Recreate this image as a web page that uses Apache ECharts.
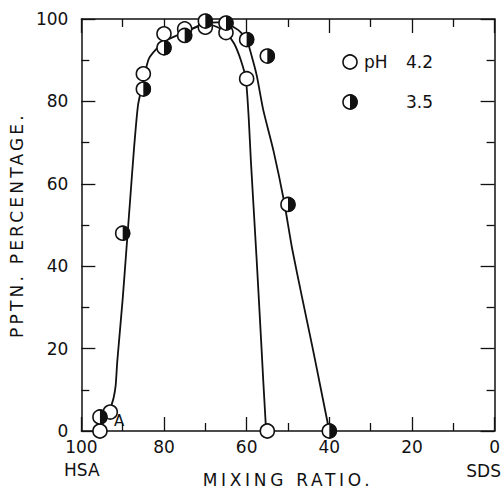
<!DOCTYPE html>
<html><head><meta charset="utf-8">
<script src="https://cdn.jsdelivr.net/npm/echarts@6/dist/echarts.min.js"></script>
<style>html,body{margin:0;padding:0;background:#fff}#c{width:503px;height:493px}</style>
</head><body><div id="c"></div>
<script>
// ---- data ----
const xTicks = [100, 80, 60, 40, 20, 0];
const yTicks = [0, 20, 40, 60, 80, 100];
// pH 4.2 (open circles): [mixing ratio, pptn %]
const ph42Points = [[95.5,0],[93,4.6],[85,86.7],[80,96.4],[75,97.6],[70,98],[65,96.7],[60,85.5],[55,0]];
// pH 3.5 (half-filled circles)
const ph35Points = [[95.5,3.4],[90,48],[85,83],[80,93],[75,96],[70,99.5],[65,99],[60,95],[55,91],[50,55],[40,0]];
// hand-drawn curves
const ph42Curve = [[92.8,6],[92.2,8],[91.7,11],[91.3,17],[90,32],[89.1,44],[88.2,56],[87.3,68],[86.3,79],[85,85],[83.6,90.5],[80,94.5],[75,96.8],[70,98.9],[67,98],[65,96.7],[63,94],[61.4,90],[60.2,85.5],[59.5,76],[59,66],[57.6,42],[56.5,22],[55.4,2],[55,0]];
const ph35Curve = [[75,96.8],[70,98.9],[67,99.2],[65,98.9],[62,97.3],[60,95],[58.5,90],[57.5,86],[56,78],[53.5,68],[51,56],[49,44.3],[46.5,32],[44,20],[42,10],[40,0]];
const legendLabels = ['pH', '4.2', '3.5'];

const INK = '#111';
const FONT = 'DejaVu Sans';
const chart = echarts.init(document.getElementById('c'), null, {renderer: 'svg'});

function xAxisCfg(pos, labels) {
  return {
    type: 'value', min: 0, max: 100, interval: 20, inverse: true, position: pos,
    axisLine: {show: true, onZero: false, lineStyle: {color: INK, width: 1.5}},
    axisTick: {show: true, inside: true, length: 14, lineStyle: {color: INK, width: 1.3}},
    minorTick: {show: true, splitNumber: 2, length: 8, lineStyle: {color: INK, width: 1.3}},
    splitLine: {show: false},
    axisLabel: {show: labels, color: INK, fontSize: 17, fontFamily: FONT, margin: 7,
      formatter: v => xTicks.includes(v) ? String(v) : ''},
    name: labels ? 'MIXING RATIO.' : '', nameLocation: 'middle', nameGap: 40,
    nameTextStyle: {color: INK, fontSize: 17, fontFamily: FONT}
  };
}
function yAxisCfg(pos, labels) {
  return {
    type: 'value', min: 0, max: 100, interval: 20, position: pos,
    axisLine: {show: true, onZero: false, lineStyle: {color: INK, width: 1.5}},
    axisTick: {show: true, inside: true, length: 14, lineStyle: {color: INK, width: 1.3}},
    minorTick: {show: true, splitNumber: 2, length: 8, lineStyle: {color: INK, width: 1.3}},
    splitLine: {show: false},
    axisLabel: {show: labels, color: INK, fontSize: 17, fontFamily: FONT, margin: 13,
      formatter: v => yTicks.includes(v) ? String(v) : ''},
    name: labels ? 'PPTN. PERCENTAGE.' : '', nameLocation: 'middle', nameGap: 47,
    nameTextStyle: {color: INK, fontSize: 17, fontFamily: FONT}
  };
}

const halfPath = 'path://M0,0A10,10,0,0,1,0,20Z';

chart.setOption({
  animation: false,
  backgroundColor: '#fff',
  grid: {left: 80, right: 8, top: 19, bottom: 59},
  xAxis: [xAxisCfg('bottom', true), xAxisCfg('top', false)],
  yAxis: [yAxisCfg('left', true), yAxisCfg('right', false)],
  series: [
    {type: 'line', data: ph42Curve, symbol: 'none', smooth: 0.2,
     lineStyle: {color: INK, width: 1.8}, z: 1, silent: true},
    {type: 'line', data: ph35Curve, symbol: 'none', smooth: 0.2,
     lineStyle: {color: INK, width: 1.8}, z: 1, silent: true},
    {type: 'scatter', data: ph42Points, symbol: 'circle', symbolSize: 14,
     itemStyle: {color: '#fff', borderColor: INK, borderWidth: 1.6, opacity: 1}, z: 3},
    {type: 'scatter', data: ph35Points, symbol: 'circle', symbolSize: 14,
     itemStyle: {color: '#fff', borderColor: INK, borderWidth: 1.6, opacity: 1}, z: 4},
    {type: 'scatter', data: ph35Points, symbol: halfPath, symbolSize: [7.6, 15], symbolOffset: [3.8, 0],
     itemStyle: {color: INK, opacity: 1}, z: 5}
  ],
  graphic: [
    {type: 'text', left: 64, top: 461, style: {text: 'HSA', font: '17px "DejaVu Sans"', fill: INK}},
    {type: 'text', right: 2, top: 462, style: {text: 'SDS', font: '17px "DejaVu Sans"', fill: INK}},
    {type: 'text', left: 114, top: 413, style: {text: 'A', font: '15px "DejaVu Sans"', fill: INK}},
    {type: 'circle', shape: {cx: 350, cy: 62, r: 7}, style: {fill: '#fff', stroke: INK, lineWidth: 1.6}},
    {type: 'text', x: 364, y: 62, style: {text: legendLabels[0], font: '17px "DejaVu Sans"', fill: INK, verticalAlign: 'middle'}},
    {type: 'text', x: 406, y: 62, style: {text: legendLabels[1], font: '17px "DejaVu Sans"', fill: INK, verticalAlign: 'middle'}},
    {type: 'circle', shape: {cx: 350, cy: 102, r: 7}, style: {fill: '#fff', stroke: INK, lineWidth: 1.6}},
    {type: 'sector', shape: {cx: 350, cy: 102, r0: 0, r: 7.8, startAngle: -Math.PI/2, endAngle: Math.PI/2, clockwise: true}, style: {fill: INK}},
    {type: 'text', x: 406, y: 102, style: {text: legendLabels[2], font: '17px "DejaVu Sans"', fill: INK, verticalAlign: 'middle'}}
  ]
});

function spaceTitles() {
  document.querySelectorAll('#c text').forEach(t => {
    const s = t.textContent;
    if (s === 'MIXING RATIO.') t.style.letterSpacing = '3.7px';
    if (s === 'PPTN. PERCENTAGE.') t.style.letterSpacing = '3.2px';
  });
}
spaceTitles();
chart.on('finished', spaceTitles);
setTimeout(spaceTitles, 50);
</script></body></html>
